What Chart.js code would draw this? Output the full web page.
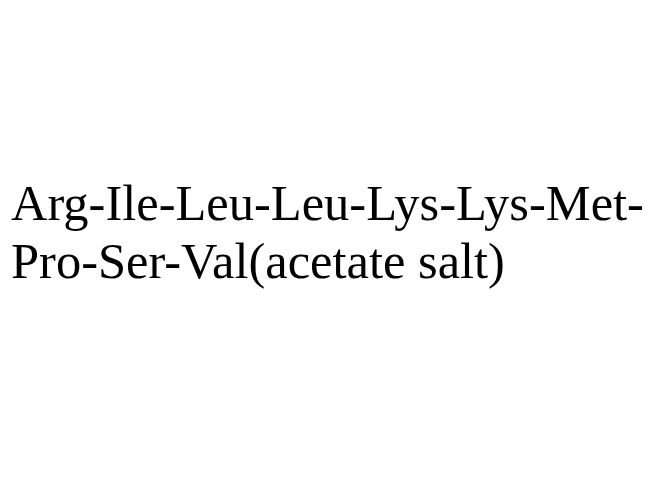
<!DOCTYPE html>
<html>
<head>
<meta charset="utf-8">
<script src="https://cdn.jsdelivr.net/npm/chart.js@4"></script>
<style>
  html, body { margin: 0; padding: 0; background: #fff; }
  #wrap { width: 651px; height: 491px; }
</style>
</head>
<body>
<div id="wrap"><canvas id="chart"></canvas></div>
<script>
// the picture only holds the name of the compound, on two lines
const titleLines = ['Arg-Ile-Leu-Leu-Lys-Lys-Met-', 'Pro-Ser-Val(acetate salt)']
const categories = []
const values = []

const ctx = document.getElementById('chart')
const chart = new Chart(ctx, {
  type: 'bar',
  data: {
    labels: categories,
    datasets: [{ data: values, backgroundColor: '#000' }]
  },
  options: {
    responsive: true,
    maintainAspectRatio: false,
    animation: false,
    devicePixelRatio: 1,
    layout: { padding: { left: 11, top: 0 } },
    scales: { x: { display: false }, y: { display: false } },
    plugins: {
      legend: { display: false },
      tooltip: { enabled: false },
      title: {
        display: true,
        text: titleLines,
        align: 'start',
        color: '#000',
        font: { family: 'Liberation Serif', size: 50.5, weight: 'normal', lineHeight: 1.158 },
        padding: { top: 177, bottom: 0 }
      }
    }
  }
})
</script>
</body>
</html>
